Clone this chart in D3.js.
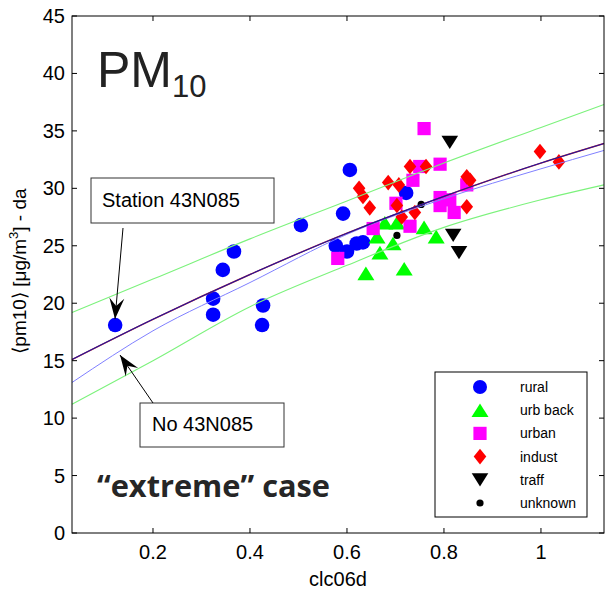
<!DOCTYPE html>
<html>
<head>
<meta charset="utf-8">
<script src="https://cdn.jsdelivr.net/npm/d3@7"></script>
<style>
  body { margin: 0; background: #fff; }
  svg { display: block; }
</style>
</head>
<body>
<script>
// scatter values
const ruralX = [0.122, 0.324, 0.324, 0.344, 0.367, 0.427, 0.425, 0.505, 0.577, 0.600, 0.620, 0.633, 0.592, 0.606, 0.722];
const ruralY = [18.1, 20.4, 19.0, 22.9, 24.5, 19.8, 18.1, 26.8, 25.0, 24.5, 25.2, 25.3, 27.8, 31.6, 29.6];
const urbBackX = [0.678, 0.662, 0.695, 0.668, 0.639, 0.718, 0.759, 0.784, 0.703];
const urbBackY = [27.0, 25.8, 25.2, 24.4, 22.6, 23.0, 26.6, 25.8, 27.0];
const urbanX = [0.759, 0.792, 0.750, 0.736, 0.701, 0.654, 0.581, 0.730, 0.792, 0.792, 0.812, 0.821, 0.847];
const urbanY = [35.2, 32.1, 31.9, 30.7, 28.7, 26.5, 23.9, 26.7, 29.2, 28.5, 29.0, 27.9, 30.3];
const industX = [0.625, 0.633, 0.647, 0.685, 0.707, 0.730, 0.763, 0.703, 0.713, 0.740, 0.847, 0.854, 0.847, 0.998, 1.037];
const industY = [30.0, 29.3, 28.3, 30.5, 30.3, 31.9, 31.9, 28.5, 27.5, 27.9, 31.0, 30.7, 28.4, 33.2, 32.3];
const traffX = [0.812, 0.819, 0.831];
const traffY = [34.0, 25.9, 24.4];
const unknownX = [0.753, 0.703];
const unknownY = [28.6, 25.9];

// fitted curves
const fitX = [0.033, 0.2, 0.4, 0.6, 0.8, 1.0, 1.13];
const fitAll = [15.1, 18.6, 22.5, 26.1, 29.3, 32.2, 33.9];
const fitNoStation = [13.1, 17.6, 21.8, 26.0, 29.1, 31.7, 33.3];
const bandUpper = [19.2, 22.1, 25.6, 28.9, 32.2, 35.3, 37.3];
const bandLower = [11.2, 15.0, 19.7, 23.3, 26.6, 29.0, 30.3];

const xTicks = [0.2, 0.4, 0.6, 0.8, 1];
const yTicks = [0, 5, 10, 15, 20, 25, 30, 35, 40, 45];

const W = 607, H = 591;
const mLeft = 72, mRight = 604, mTop = 16, mBottom = 533;
const font = "'Liberation Sans', Arial, sans-serif";

const x = d3.scaleLinear().domain([0.033, 1.13]).range([mLeft, mRight]);
const y = d3.scaleLinear().domain([0, 45]).range([mBottom, mTop]);

const svg = d3.select("body").append("svg")
    .attr("width", W)
    .attr("height", H)
    .style("font-family", font);

// marker shapes, MATLAB-like
function marker(g, kind, cx, cy, s) {
  s = s || 1;
  if (kind === "circle") {
    g.append("circle").attr("cx", cx).attr("cy", cy).attr("r", 7.3 * s).attr("fill", "#0000ff");
  } else if (kind === "tri") {
    const w = 8.5 * s, h = 6.8 * s;
    g.append("path").attr("d", `M${cx},${cy - h}L${cx + w},${cy + h}L${cx - w},${cy + h}Z`).attr("fill", "#00ff00");
  } else if (kind === "square") {
    const a = 6.6 * s;
    g.append("rect").attr("x", cx - a).attr("y", cy - a).attr("width", 2 * a).attr("height", 2 * a).attr("fill", "#ff00ff");
  } else if (kind === "diamond") {
    const w = 6.3 * s, h = 7.8 * s;
    g.append("path").attr("d", `M${cx},${cy - h}L${cx + w},${cy}L${cx},${cy + h}L${cx - w},${cy}Z`).attr("fill", "#ff0000");
  } else if (kind === "dtri") {
    const w = 8.3 * s, h = 6.6 * s;
    g.append("path").attr("d", `M${cx - w},${cy - h}L${cx + w},${cy - h}L${cx},${cy + h}Z`).attr("fill", "#000");
  } else if (kind === "dot") {
    g.append("circle").attr("cx", cx).attr("cy", cy).attr("r", 3.6 * s).attr("fill", "#000");
  }
}

const groups = [
  {xs: ruralX, ys: ruralY, kind: "circle", label: "rural"},
  {xs: urbBackX, ys: urbBackY, kind: "tri", label: "urb back"},
  {xs: urbanX, ys: urbanY, kind: "square", label: "urban"},
  {xs: industX, ys: industY, kind: "diamond", label: "indust"},
  {xs: traffX, ys: traffY, kind: "dtri", label: "traff"},
  {xs: unknownX, ys: unknownY, kind: "dot", label: "unknown"}
];

const pts = svg.append("g");
groups.forEach(gr => {
  gr.xs.forEach((v, i) => marker(pts, gr.kind, x(v), y(gr.ys[i])));
});

// fit lines
const line = d3.line()
    .x((d, i) => x(fitX[i]))
    .y(d => y(d))
    .curve(d3.curveMonotoneX);

svg.append("path").attr("d", line(bandUpper)).attr("fill", "none").attr("stroke", "#7cf27c").attr("stroke-width", 1.1);
svg.append("path").attr("d", line(bandLower)).attr("fill", "none").attr("stroke", "#7cf27c").attr("stroke-width", 1.1);
svg.append("path").attr("d", line(fitNoStation)).attr("fill", "none").attr("stroke", "#8080ff").attr("stroke-width", 1);
svg.append("path").attr("d", line(fitAll)).attr("fill", "none").attr("stroke", "#d03030").attr("stroke-width", 1.4);
svg.append("path").attr("d", line(fitAll)).attr("fill", "none").attr("stroke", "#1c14a0").attr("stroke-width", 1.1);

// axes box
const ax = svg.append("g").attr("stroke", "#000").attr("stroke-width", 1).attr("fill", "none");
ax.append("rect").attr("x", mLeft).attr("y", mTop).attr("width", mRight - mLeft).attr("height", mBottom - mTop);
xTicks.forEach(t => {
  ax.append("line").attr("x1", x(t)).attr("x2", x(t)).attr("y1", mBottom).attr("y2", mBottom - 5);
  ax.append("line").attr("x1", x(t)).attr("x2", x(t)).attr("y1", mTop).attr("y2", mTop + 5);
});
yTicks.forEach(t => {
  ax.append("line").attr("x1", mLeft).attr("x2", mLeft + 5).attr("y1", y(t)).attr("y2", y(t));
  ax.append("line").attr("x1", mRight).attr("x2", mRight - 5).attr("y1", y(t)).attr("y2", y(t));
});

svg.append("g").selectAll("text").data(xTicks).join("text")
    .attr("x", d => x(d))
    .attr("y", 559)
    .attr("text-anchor", "middle")
    .attr("font-size", 20)
    .text(d => d);

svg.append("g").selectAll("text").data(yTicks).join("text")
    .attr("x", 65)
    .attr("y", d => y(d) + 7)
    .attr("text-anchor", "end")
    .attr("font-size", 20)
    .text(d => d);

svg.append("text")
    .attr("x", (mLeft + mRight) / 2)
    .attr("y", 586)
    .attr("text-anchor", "middle")
    .attr("font-size", 20)
    .text("clc06d");

const yl = svg.append("text")
    .attr("transform", "translate(26,271) rotate(-90)")
    .attr("text-anchor", "middle")
    .attr("font-size", 19);
yl.append("tspan").text("\u27E8pm10\u27E9 [\u03BCg/m");
yl.append("tspan").attr("font-size", 13).attr("dy", -8).text("3");
yl.append("tspan").attr("dy", 8).text("] - da");

// title
const pm = svg.append("text").attr("x", 97).attr("y", 87).attr("fill", "#222").attr("font-size", 50);
pm.append("tspan").text("PM");
pm.append("tspan").attr("font-size", 31).attr("dy", 10).text("10");

svg.append("text")
    .attr("x", 97)
    .attr("y", 497)
    .attr("fill", "#262626")
    .attr("font-family", "'Open Sans', sans-serif")
    .attr("font-weight", "bold")
    .attr("font-size", 30)
    .attr("textLength", 233)
    .attr("lengthAdjust", "spacingAndGlyphs")
    .text("\u201Cextreme\u201D case");

// annotation boxes and arrows
function arrow(x1, y1, x2, y2) {
  svg.append("line").attr("x1", x1).attr("y1", y1).attr("x2", x2).attr("y2", y2)
      .attr("stroke", "#000").attr("stroke-width", 1);
  const a = Math.atan2(y2 - y1, x2 - x1);
  const L = 21, hw = 7.5, notch = 13;
  const p = (d, o) => [x2 - d * Math.cos(a) - o * Math.sin(a), y2 - d * Math.sin(a) + o * Math.cos(a)];
  const pts2 = [[x2, y2], p(L, hw), p(notch, 0), p(L, -hw)];
  svg.append("path").attr("d", "M" + pts2.map(q => q.join(",")).join("L") + "Z").attr("fill", "#000");
}

svg.append("rect").attr("x", 91).attr("y", 178).attr("width", 183).attr("height", 45)
    .attr("fill", "#fff").attr("stroke", "#333").attr("stroke-width", 1);
svg.append("text").attr("x", 102).attr("y", 207).attr("font-size", 20).text("Station 43N085");
arrow(123, 228, 115, 319);

svg.append("rect").attr("x", 140).attr("y", 403).attr("width", 144).attr("height", 44)
    .attr("fill", "#fff").attr("stroke", "#333").attr("stroke-width", 1);
svg.append("text").attr("x", 152).attr("y", 431).attr("font-size", 20).text("No 43N085");
arrow(153, 403, 120, 355);

// legend
const lg = svg.append("g");
lg.append("rect").attr("x", 435).attr("y", 372).attr("width", 152).attr("height", 145)
    .attr("fill", "#fff").attr("stroke", "#000").attr("stroke-width", 1);
groups.forEach((gr, i) => {
  const cy = 387 + i * 23.2;
  marker(lg, gr.kind, 480, cy, gr.kind === "circle" ? 0.96 : 1);
  lg.append("text").attr("x", 520).attr("y", cy + 5).attr("font-size", 14).text(gr.label);
});
</script>
</body>
</html>
